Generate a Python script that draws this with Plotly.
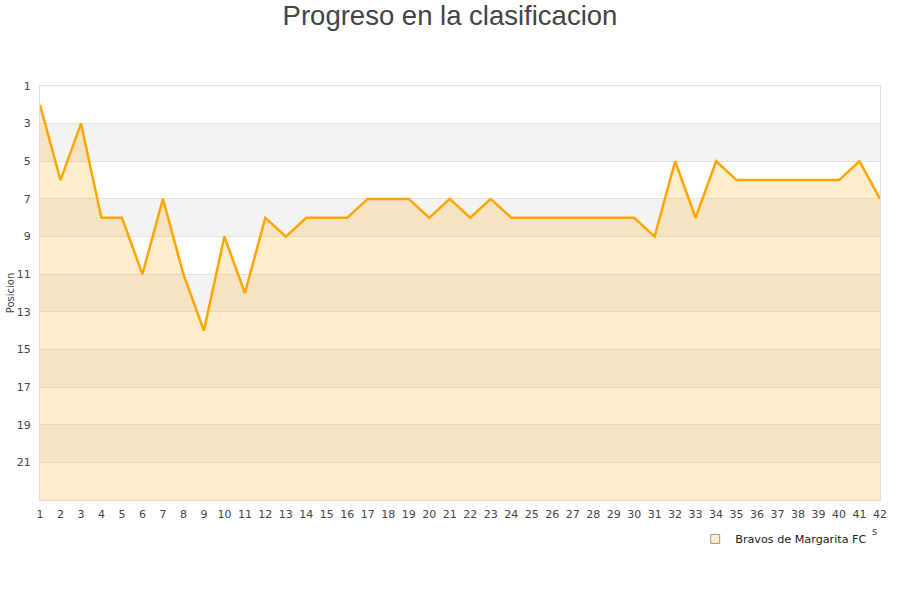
import plotly.graph_objects as go

jornadas = list(range(1, 43))
posiciones = [2, 6, 3, 8, 8, 11, 7, 11, 14, 9,
              12, 8, 9, 8, 8, 8, 7, 7, 7, 8,
              7, 8, 7, 8, 8, 8, 8, 8, 8, 8,
              9, 5, 8, 5, 6, 6, 6, 6, 6, 6,
              5, 7]
equipo = "Bravos de Margarita FC"
ticks_y = list(range(1, 22, 2))
fondo = 23  # bottom of the reversed axis

fig = go.Figure()

# invisible baseline so the area fills down to the bottom of the plot
fig.add_trace(go.Scatter(x=jornadas, y=[fondo] * len(jornadas), mode="lines",
                         line=dict(width=0), showlegend=False, hoverinfo="skip"))
fig.add_trace(go.Scatter(x=jornadas, y=posiciones, mode="lines", fill="tonexty",
                         fillcolor="rgba(255,165,0,0.2)",
                         line=dict(color="#ffa500", width=2.5),
                         name=equipo, showlegend=False))
# legend entry only
fig.add_trace(go.Scatter(x=[None], y=[None], mode="markers", name=equipo,
                         marker=dict(symbol="square", size=9, color="#ffedcc",
                                     line=dict(color="#999999", width=1))))

# alternating grey bands
shapes = []
for v in range(3, 22, 4):
    shapes.append(dict(type="rect", xref="paper", yref="y", x0=0, x1=1, y0=v, y1=v + 2,
                       fillcolor="#f3f3f3", line=dict(width=0), layer="below"))

fig.update_layout(
    width=900, height=600,
    paper_bgcolor="white", plot_bgcolor="white",
    margin=dict(l=40, r=20, t=86, b=100),
    title=dict(text="Progreso en la clasificacion", x=0.5, xanchor="center",
               y=0.975, yanchor="middle",
               font=dict(family="Liberation Sans", size=27.5, color="#444444")),
    font=dict(family="DejaVu Sans", size=11, color="#444444"),
    shapes=shapes,
    showlegend=True,
    legend=dict(x=0.78, y=-0.094, xanchor="left", yanchor="middle",
                font=dict(size=11.2, color="#222222"), bgcolor="rgba(0,0,0,0)"),
    annotations=[dict(text="s", xref="paper", yref="paper", x=0.994, y=-0.075,
                      xanchor="center", yanchor="middle",
                      showarrow=False, font=dict(size=10, color="#444444"))],
    xaxis=dict(range=[1, 42], tickmode="array", tickvals=jornadas,
               showgrid=False, zeroline=False, showline=True, mirror=True,
               linecolor="#dddddd", ticks="", ticklabelstandoff=4,
               tickfont=dict(size=11, color="#444444")),
    yaxis=dict(range=[fondo, 1], tickmode="array", tickvals=ticks_y,
               showgrid=True, gridcolor="#e2e2e2", zeroline=False,
               showline=True, mirror=True, linecolor="#dddddd", ticks="",
               ticklabelstandoff=6, automargin=False,
               tickfont=dict(size=11, color="#444444"),
               title=dict(text="Posicion", font=dict(size=10, color="#444444"),
                          standoff=0)),
)

fig.write_html("out.html", config={"displayModeBar": False},
               post_script="document.body.style.margin='0';")
